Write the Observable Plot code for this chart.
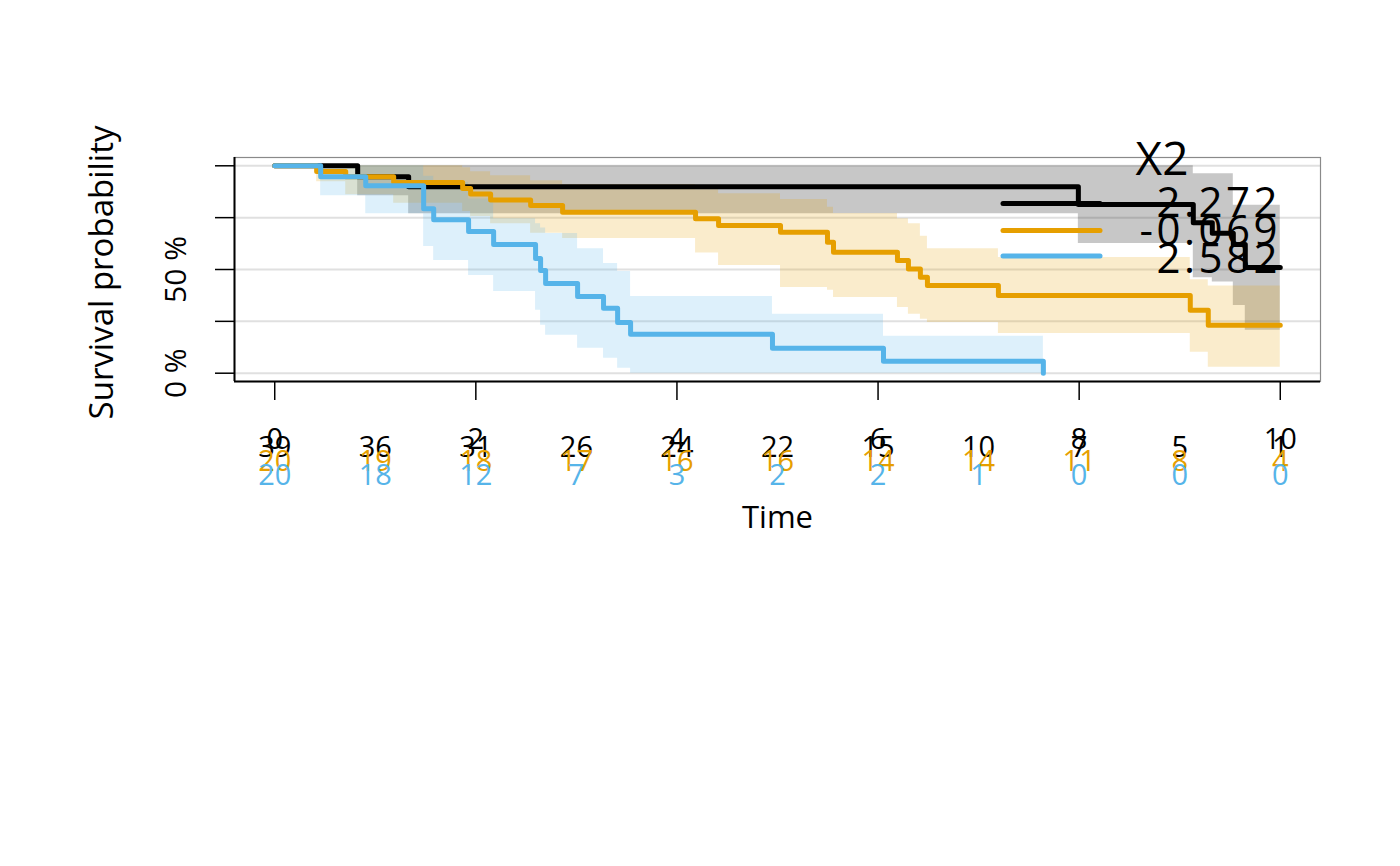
<!DOCTYPE html>
<html>
<head>
<meta charset="utf-8">
<script src="https://cdn.jsdelivr.net/npm/d3@7"></script>
<script src="https://cdn.jsdelivr.net/npm/@observablehq/plot@0.6"></script>
<style>
  html, body { margin: 0; padding: 0; background: #fff; }
  #chart svg { display: block; }
</style>
</head>
<body>
<div id="chart"></div>
<script>
// ---------- data ----------
const groupLabels = ["-2.272", "-0.069", "2.582"];
const groupColors = ["#000000", "#E69F00", "#56B4E9"];
const legendTitle = "X2";
const xTitle = "Time";
const yTitle = "Survival probability";
const xTicks = [0, 2, 4, 6, 8, 10];
const yTicks = [0, 0.25, 0.5, 0.75, 1];
const yLabelValues = [0, 0.5];
const yLabelTexts = ["0 %", "50 %"];

// group "-2.272" (black)
const blackTime  = [0, 0.825, 1.332, 7.992, 9.135, 9.324, 9.533, 9.652, 10];
const blackSurv  = [1, 0.947, 0.899, 0.813, 0.726, 0.675, 0.620, 0.510, 0.510];
const blackLower = [1, 0.856, 0.769, 0.625, 0.460, 0.440, 0.327, 0.207, 0.207];
const blackUpper = [1, 1, 1, 1, 0.962, 0.962, 0.810, 0.810, 0.810];

// group "-0.069" (orange)
const orangeTime  = [0, 0.417, 0.706, 1.183, 1.869, 1.948, 2.147, 2.545, 2.863, 4.185, 4.414, 5.030, 5.497, 5.557, 6.193, 6.302, 6.421, 6.491, 7.197, 9.105, 9.284, 10];
const orangeSurv  = [1, 0.973, 0.947, 0.920, 0.891, 0.864, 0.835, 0.808, 0.776, 0.745, 0.712, 0.679, 0.631, 0.583, 0.543, 0.503, 0.463, 0.423, 0.375, 0.303, 0.231, 0.231];
const orangeLower = [1, 0.923, 0.860, 0.820, 0.780, 0.755, 0.720, 0.675, 0.649, 0.580, 0.519, 0.413, 0.400, 0.365, 0.317, 0.284, 0.260, 0.245, 0.192, 0.101, 0.029, 0.029];
const orangeUpper = [1, 1, 1, 1, 0.990, 0.971, 0.952, 0.928, 0.910, 0.885, 0.865, 0.837, 0.800, 0.770, 0.745, 0.720, 0.660, 0.600, 0.558, 0.450, 0.420, 0.420];

// group "2.582" (blue)
const blueTime  = [0, 0.457, 0.905, 1.481, 1.581, 1.928, 2.177, 2.594, 2.644, 2.694, 3.012, 3.270, 3.410, 3.539, 4.950, 6.054, 7.644];
const blueSurv  = [1, 0.947, 0.904, 0.793, 0.740, 0.683, 0.620, 0.553, 0.495, 0.433, 0.370, 0.313, 0.245, 0.188, 0.120, 0.058, 0];
const blueLower = [1, 0.856, 0.769, 0.611, 0.543, 0.471, 0.394, 0.303, 0.231, 0.183, 0.120, 0.072, 0.024, 0, 0, 0, 0];
const blueUpper = [1, 1, 1, 0.950, 0.920, 0.840, 0.745, 0.720, 0.700, 0.673, 0.600, 0.529, 0.490, 0.370, 0.284, 0.178, 0.178];

// numbers at risk
const riskTimes  = [0, 1, 2, 3, 4, 5, 6, 7, 8, 9, 10];
const riskBlack  = [39, 36, 31, 26, 24, 22, 15, 10, 7, 5, 1];
const riskOrange = [20, 19, 18, 17, 16, 16, 14, 14, 11, 8, 4];
const riskBlue   = [20, 18, 12, 7, 3, 2, 2, 1, 0, 0, 0];

// ---------- tables ----------
function rows(t, s, lo, up) {
  return t.map((d, i) => ({t: d, s: s[i], lower: lo[i], upper: up[i]}));
}
const series = [
  rows(blackTime, blackSurv, blackLower, blackUpper),
  rows(orangeTime, orangeSurv, orangeLower, orangeUpper),
  rows(blueTime, blueSurv, blueLower, blueUpper)
];
const risks = [riskBlack, riskOrange, riskBlue].map(r => riskTimes.map((t, i) => ({t, n: r[i]})));
const riskDy = [75, 89, 103];
const yLabels = yLabelValues.map((v, i) => ({v, text: yLabelTexts[i]}));

const FONT = "'Open Sans', 'Noto Sans', sans-serif";

const chart = Plot.plot({
  width: 1400,
  height: 866,
  marginLeft: 234,
  marginRight: 80,
  marginTop: 157,
  marginBottom: 485,
  x: {domain: [-0.4, 10.4]},
  y: {domain: [-0.04, 1.04]},
  style: {fontFamily: FONT, background: "white", color: "black"},
  marks: [
    Plot.ruleY(yTicks, {stroke: "#e0e0e0", strokeWidth: 2}),
    ...series.map((d, i) => Plot.areaY(d, {
      x: "t", y1: "lower", y2: "upper", curve: "step-after",
      fill: groupColors[i], fillOpacity: i === 0 ? 0.22 : 0.2
    })),
    ...series.map((d, i) => Plot.line(d, {
      x: "t", y: "s", curve: "step-after",
      stroke: groupColors[i], strokeWidth: 5,
      strokeLinecap: "round", strokeLinejoin: "round"
    })),
    Plot.frame({stroke: "#8a8a8a", strokeWidth: 1.2}),
    Plot.ruleX([-0.4], {stroke: "black", strokeWidth: 2}),
    Plot.ruleY([-0.04], {stroke: "black", strokeWidth: 2}),
    Plot.axisY({ticks: yTicks, tickSize: 19, tickFormat: () => "", label: null, strokeWidth: 1.5}),
    Plot.text(yLabels, {
      y: "v", text: "text", frameAnchor: "left", rotate: -90,
      dx: -49, lineAnchor: "bottom", textAnchor: "middle", fontSize: 30, fill: "black"
    }),
    Plot.text([yTitle], {
      frameAnchor: "left", rotate: -90, dx: -122, dy: 3,
      lineAnchor: "bottom", textAnchor: "middle", fontSize: 33, fill: "black"
    }),
    Plot.axisX({ticks: xTicks, tickSize: 19, tickPadding: 28, fontSize: 29, label: null, strokeWidth: 1.5}),
    ...risks.map((d, i) => Plot.text(d, {
      x: "t", text: "n", frameAnchor: "bottom", dy: riskDy[i],
      lineAnchor: "bottom", fontSize: 29, fill: groupColors[i]
    })),
    Plot.text([xTitle], {
      frameAnchor: "bottom", dy: 146, lineAnchor: "bottom", fontSize: 31, fill: "black"
    })
  ]
});

document.getElementById("chart").appendChild(chart);

// ---------- legend ----------
const svg = d3.select(chart);
const lg = svg.append("g").attr("font-family", FONT);
const lineY = [203.5, 230.5, 256];
const labelBase = [217, 245, 273];
groupLabels.forEach((lab, i) => {
  lg.append("line")
    .attr("x1", 1003).attr("x2", 1100)
    .attr("y1", lineY[i]).attr("y2", lineY[i])
    .attr("stroke", groupColors[i]).attr("stroke-width", 5)
    .attr("stroke-linecap", "round");
});
groupLabels.forEach((lab, i) => {
  lg.append("text")
    .attr("x", 1281).attr("y", labelBase[i])
    .attr("text-anchor", "end").attr("font-size", 42)
    .attr("letter-spacing", 3.5)
    .attr("fill", "black").text(lab);
});
lg.append("text")
  .attr("x", 1162).attr("y", 175)
  .attr("text-anchor", "middle").attr("font-size", 46)
  .attr("fill", "black").text(legendTitle);
</script>
</body>
</html>
